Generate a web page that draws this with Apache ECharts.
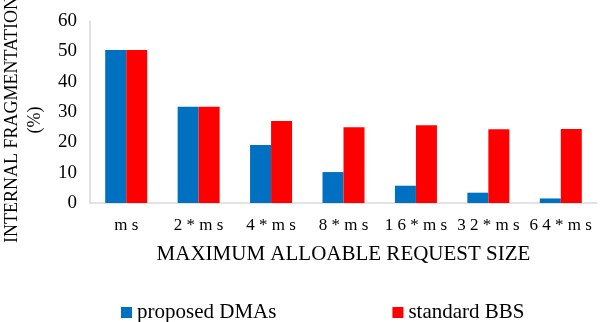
<!DOCTYPE html>
<html><head><meta charset="utf-8">
<script src="https://cdn.jsdelivr.net/npm/echarts@6/dist/echarts.min.js"></script>
<style>html,body{margin:0;padding:0;background:#fff}#c{width:604px;height:322px}</style>
</head><body><div id="c"></div>
<script>
const categories = ['m s', '2 * m s', '4 * m s', '8 * m s', '1 6 * m s', '3 2 * m s', '6 4 * m s'];
const proposedDMAs = [50.4, 31.7, 19.1, 10.2, 5.7, 3.4, 1.5];
const standardBBS = [50.4, 31.7, 27.0, 25.0, 25.6, 24.3, 24.4];
const yTicks = [0, 10, 20, 30, 40, 50, 60];
const F = '"Liberation Serif","Times New Roman",serif';
const chart = echarts.init(document.getElementById('c'));
chart.setOption({
  animation: false,
  textStyle: { fontFamily: F },
  grid: { left: 90, right: 7, top: 21, bottom: 119, containLabel: false, outerBoundsMode: 'none' },
  legend: {
    top: 297, left: 116, itemWidth: 11, itemHeight: 11, itemGap: 116,
    icon: 'rect',
    textStyle: { fontFamily: F, fontSize: 21, color: '#000' },
    data: ['proposed DMAs', 'standard BBS']
  },
  xAxis: {
    type: 'category', data: categories,
    name: 'MAXIMUM ALLOABLE REQUEST SIZE', nameLocation: 'middle', nameGap: 41,
    nameTextStyle: { fontFamily: F, fontSize: 21, color: '#000' },
    axisLine: { lineStyle: { color: '#d9d9d9', width: 1.5 } },
    axisTick: { show: false },
    axisLabel: { fontFamily: F, fontSize: 17, color: '#000', margin: 14, interval: 0, hideOverlap: false }
  },
  yAxis: {
    type: 'value', min: yTicks[0], max: yTicks[yTicks.length - 1], interval: 10,
    name: 'INTERNAL FRAGMENTATION\n(%)', nameLocation: 'middle', nameGap: 32,
    nameTextStyle: { fontFamily: F, fontSize: 18, color: '#000', lineHeight: 23, padding: [0, 16, 0, 0] },
    axisLine: { show: true, lineStyle: { color: '#d9d9d9', width: 1.5 } },
    axisTick: { show: false },
    splitLine: { show: false },
    axisLabel: { fontFamily: F, fontSize: 19, color: '#000', margin: 13 }
  },
  series: [
    { name: 'proposed DMAs', type: 'bar', data: proposedDMAs, barGap: '0%', barCategoryGap: '42%',
      itemStyle: { color: '#0070c0' } },
    { name: 'standard BBS', type: 'bar', data: standardBBS,
      itemStyle: { color: '#ff0000' } }
  ]
});
</script></body></html>
